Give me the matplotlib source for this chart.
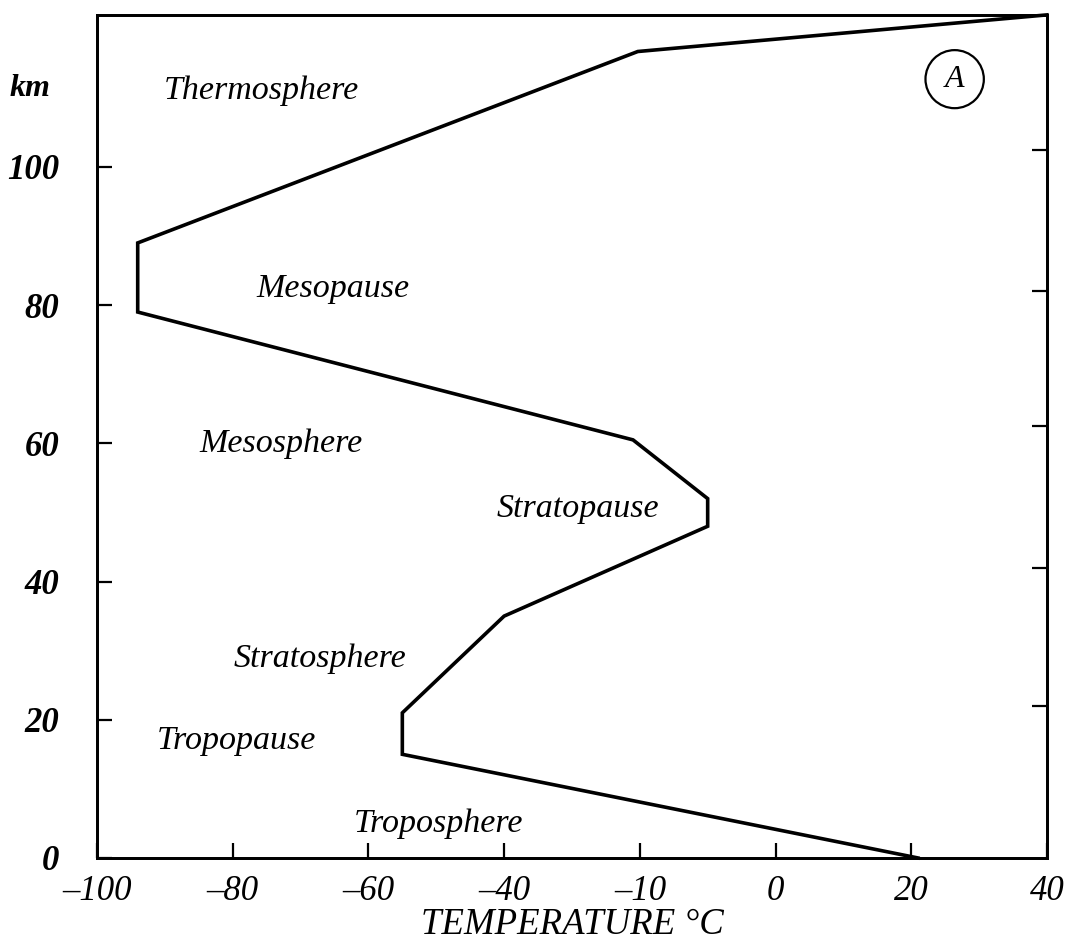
import matplotlib
matplotlib.use("Agg")
import matplotlib.pyplot as plt
from matplotlib.patches import Ellipse

# temperature profile
temp_c = [21, -55, -55, -40, -10, -10, -21, -94, -94, -20.3, 40]
height_km = [0, 15, 21, 35, 48, 52, 60.5, 79, 89, 116.7, 122]

x_ticks = [-100, -80, -60, -40, -20, 0, 20, 40]
# original figure prints "-10" at the -20 tick
x_labels = ["\u2013100", "\u201380", "\u201360", "\u201340", "\u201310", "0", "20", "40"]
y_ticks = [0, 20, 40, 60, 80, 100]
y_labels = ["0", "20", "40", "60", "80", "100"]
right_ticks = [22, 42, 62.5, 82, 102.5]

layers = ["Thermosphere", "Mesopause", "Mesosphere", "Stratopause",
          "Stratosphere", "Tropopause", "Troposphere"]
layer_t = [-75.7, -65.2, -72.9, -29.1, -67.1, -79.5, -49.7]
layer_z = [111, 82.4, 59.9, 50.5, 28.9, 17, 5]

serif = ["Liberation Serif", "DejaVu Serif"]

fig = plt.figure(figsize=(10.67, 9.42), dpi=100)
ax = fig.add_axes([0.0909, 0.0892, 0.8903, 0.8950])

ax.plot(temp_c, height_km, color="black", lw=2.6, solid_joinstyle="miter", clip_on=False)

ax.set_xlim(-100, 40)
ax.set_ylim(0, 122)

ax.set_xticks(x_ticks)
ax.set_xticklabels(x_labels)
ax.set_yticks(y_ticks)
ax.set_yticklabels(y_labels)
for lab in ax.get_xticklabels():
    lab.set_family(serif)
    lab.set_style("italic")
    lab.set_fontsize(25)
for lab in ax.get_yticklabels():
    lab.set_family(serif)
    lab.set_style("italic")
    lab.set_fontweight("bold")
    lab.set_fontsize(25)

ax.tick_params(axis="x", direction="in", length=11, width=1.6, pad=12)
ax.tick_params(axis="y", direction="in", length=11, width=1.6, pad=27)

ax2 = ax.twinx()
ax2.set_ylim(0, 122)
ax2.set_yticks(right_ticks)
ax2.set_yticklabels([])
ax2.tick_params(axis="y", direction="in", length=11, width=1.6)

for a in (ax, ax2):
    for s in a.spines.values():
        s.set_linewidth(2)

for name, t, z in zip(layers, layer_t, layer_z):
    ax.text(t, z, name, ha="center", va="center", fontsize=24.5,
            family=serif, style="italic")

# circled "A"
ax.add_patch(Ellipse((26.4, 112.7), width=8.6, height=8.4, fill=False, lw=1.6, color="black"))
ax.text(26.4, 112.7, "A", ha="center", va="center", fontsize=23, family=serif, style="italic")

fig.text(30 / 1067, 1 - 88 / 942, "km", ha="center", va="center", fontsize=23,
         family=serif, style="italic", fontweight="bold")
ax.set_xlabel("TEMPERATURE \u00b0C", fontsize=26.5, family=serif, style="italic", labelpad=0)

fig.savefig("out.png", dpi=100)
